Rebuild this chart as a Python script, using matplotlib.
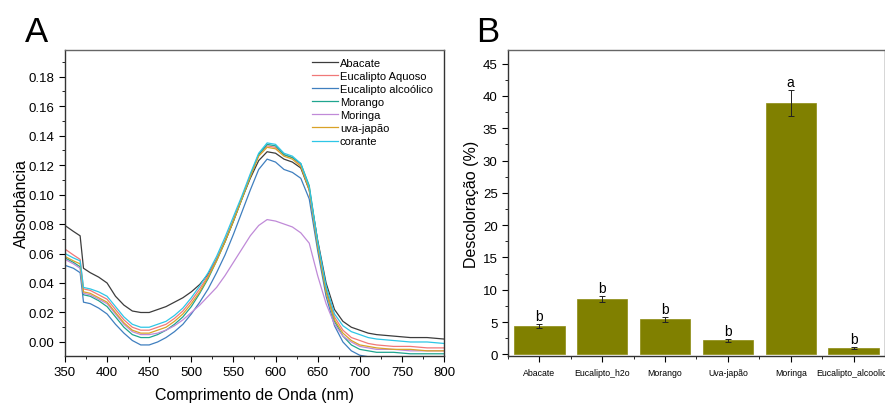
import matplotlib
matplotlib.use('Agg')
import matplotlib.pyplot as plt
import numpy as np
from matplotlib.ticker import MultipleLocator

plt.rcParams['font.family'] = ['Liberation Sans', 'DejaVu Sans']

# spectra (A): wavelength grid and absorbance
wl = [350, 360, 368, 372, 380, 390, 400, 410, 420, 430, 440, 450, 460, 470, 480, 490,
      500, 510, 520, 530, 540, 550, 560, 570, 580, 590, 600, 610, 620, 630, 640, 650,
      660, 670, 680, 690, 700, 710, 720, 740, 760, 780, 800]

abacate = [0.079, 0.075, 0.072, 0.050, 0.047, 0.044, 0.040, 0.031, 0.025, 0.021, 0.020, 0.020,
           0.022, 0.024, 0.027, 0.030, 0.034, 0.039, 0.046, 0.056, 0.068, 0.082, 0.097, 0.111,
           0.123, 0.129, 0.128, 0.124, 0.122, 0.118, 0.103, 0.069, 0.040, 0.022, 0.014, 0.010,
           0.008, 0.006, 0.005, 0.004, 0.003, 0.003, 0.002]
euc_aquoso = [0.063, 0.059, 0.056, 0.036, 0.035, 0.032, 0.029, 0.022, 0.015, 0.010, 0.008, 0.008,
              0.010, 0.012, 0.016, 0.021, 0.028, 0.036, 0.045, 0.056, 0.069, 0.083, 0.098, 0.113,
              0.127, 0.133, 0.132, 0.127, 0.125, 0.120, 0.104, 0.066, 0.036, 0.017, 0.008, 0.003,
              0.001, -0.001, -0.002, -0.003, -0.003, -0.004, -0.004]
euc_alcoolico = [0.052, 0.050, 0.047, 0.027, 0.026, 0.023, 0.019, 0.012, 0.006, 0.001, -0.002, -0.002,
                 0.000, 0.003, 0.007, 0.012, 0.019, 0.027, 0.036, 0.047, 0.059, 0.073, 0.088, 0.103,
                 0.117, 0.124, 0.122, 0.117, 0.115, 0.111, 0.097, 0.062, 0.031, 0.011, 0.000, -0.006,
                 -0.009, -0.010, -0.011, -0.011, -0.012, -0.012, -0.012]
morango = [0.057, 0.054, 0.051, 0.032, 0.031, 0.028, 0.024, 0.017, 0.010, 0.005, 0.003, 0.003,
           0.005, 0.008, 0.012, 0.017, 0.024, 0.033, 0.043, 0.055, 0.068, 0.082, 0.097, 0.112,
           0.127, 0.134, 0.133, 0.127, 0.125, 0.121, 0.106, 0.068, 0.035, 0.014, 0.004, -0.002,
           -0.005, -0.006, -0.007, -0.007, -0.008, -0.008, -0.008]
moringa = [0.056, 0.053, 0.050, 0.033, 0.032, 0.029, 0.026, 0.019, 0.012, 0.007, 0.005, 0.005,
           0.006, 0.008, 0.011, 0.015, 0.020, 0.025, 0.031, 0.037, 0.045, 0.054, 0.063, 0.072,
           0.079, 0.083, 0.082, 0.080, 0.078, 0.074, 0.067, 0.045, 0.026, 0.012, 0.004, 0.000,
           -0.003, -0.004, -0.005, -0.005, -0.006, -0.006, -0.006]
uva_japao = [0.058, 0.055, 0.053, 0.034, 0.033, 0.030, 0.027, 0.020, 0.013, 0.008, 0.006, 0.006,
             0.008, 0.010, 0.014, 0.019, 0.026, 0.034, 0.044, 0.055, 0.068, 0.082, 0.097, 0.112,
             0.126, 0.132, 0.131, 0.126, 0.124, 0.119, 0.103, 0.065, 0.034, 0.015, 0.006, 0.001,
             -0.002, -0.003, -0.004, -0.005, -0.005, -0.006, -0.006]
corante = [0.060, 0.057, 0.055, 0.037, 0.036, 0.034, 0.031, 0.024, 0.017, 0.012, 0.010, 0.010,
           0.012, 0.014, 0.018, 0.023, 0.030, 0.038, 0.047, 0.058, 0.071, 0.085, 0.099, 0.114,
           0.128, 0.135, 0.134, 0.128, 0.126, 0.121, 0.105, 0.068, 0.038, 0.019, 0.011, 0.007,
           0.005, 0.003, 0.002, 0.001, 0.000, 0.000, -0.001]

series = [('Abacate', abacate, '#3c3c3c'),
          ('Eucalipto Aquoso', euc_aquoso, '#f07878'),
          ('Eucalipto alcoólico', euc_alcoolico, '#3f7fbf'),
          ('Morango', morango, '#1fa58f'),
          ('Moringa', moringa, '#c08ad8'),
          ('uva-japão', uva_japao, '#d9a227'),
          ('corante', corante, '#2ec6e6')]

# decolorization (B)
amostras = ['Abacate', 'Eucalipto_h2o', 'Morango', 'Uva-japão', 'Moringa', 'Eucalipto_alcoolico']
descoloracao = [4.4, 8.6, 5.4, 2.2, 38.9, 1.0]
erro = [0.3, 0.5, 0.4, 0.25, 2.0, 0.1]
letras = ['b', 'b', 'b', 'b', 'a', 'b']

fig = plt.figure(figsize=(8.85, 4.06), dpi=100)
ax1 = fig.add_axes([0.0734, 0.1207, 0.4283, 0.7537])
ax2 = fig.add_axes([0.574, 0.1207, 0.426, 0.7537])

for name, vals, c in series:
    ax1.plot(wl, vals, color=c, lw=0.9, label=name)
ax1.set_xlim(350, 800)
ax1.set_ylim(-0.0095, 0.198)
ax1.xaxis.set_major_locator(MultipleLocator(50))
ax1.xaxis.set_minor_locator(MultipleLocator(25))
ax1.yaxis.set_major_locator(MultipleLocator(0.02))
ax1.yaxis.set_minor_locator(MultipleLocator(0.01))
ax1.yaxis.set_major_formatter(matplotlib.ticker.FormatStrFormatter('%.2f'))
ax1.set_xlabel('Comprimento de Onda (nm)', fontsize=11.5, labelpad=6)
ax1.set_ylabel('Absorbância', fontsize=11.5, labelpad=0)
ax1.legend(loc='upper left', bbox_to_anchor=(0.63, 1.0), frameon=False, fontsize=8,
           handlelength=2.4, handletextpad=0.15, labelspacing=0.28, borderaxespad=0.3)

x = np.arange(1, len(amostras) + 1)
ax2.bar(x, descoloracao, width=0.8, color='#808000', edgecolor='#8c8a10', lw=0.5)
ax2.errorbar(x, descoloracao, yerr=erro, fmt='none', ecolor='#222222', elinewidth=0.7,
             capsize=2.5, capthick=0.7)
for xi, v, e, l in zip(x, descoloracao, erro, letras):
    ax2.text(xi, v + e + 0.15, l, ha='center', va='bottom', fontsize=10)
ax2.set_xlim(0.5, 6.5)
ax2.set_ylim(-0.25, 47.1)
ax2.set_xticks(x)
ax2.set_xticklabels(amostras, fontsize=6.3)
ax2.xaxis.set_minor_locator(MultipleLocator(0.5))
ax2.yaxis.set_major_locator(MultipleLocator(5))
ax2.yaxis.set_minor_locator(MultipleLocator(2.5))
ax2.set_ylabel('Descoloração (%)', fontsize=11.5, labelpad=3)

for ax in (ax1, ax2):
    ax.tick_params(which='both', direction='out', top=False, right=False)
    ax.tick_params(which='major', length=4, width=0.8, labelsize=9.5)
    ax.tick_params(which='minor', length=2.5, width=0.6)
    for s in ax.spines.values():
        s.set_linewidth(1.0)
        s.set_color('#333333')
    ax.spines['top'].set_color('#666666')
ax2.tick_params(axis='x', which='major', labelsize=6.3, pad=5)

fig.text(25 / 885, 1 - 42 / 406, 'A', fontsize=25)
fig.text(476 / 885, 1 - 42 / 406, 'B', fontsize=25)

fig.savefig('out.png', dpi=100)
